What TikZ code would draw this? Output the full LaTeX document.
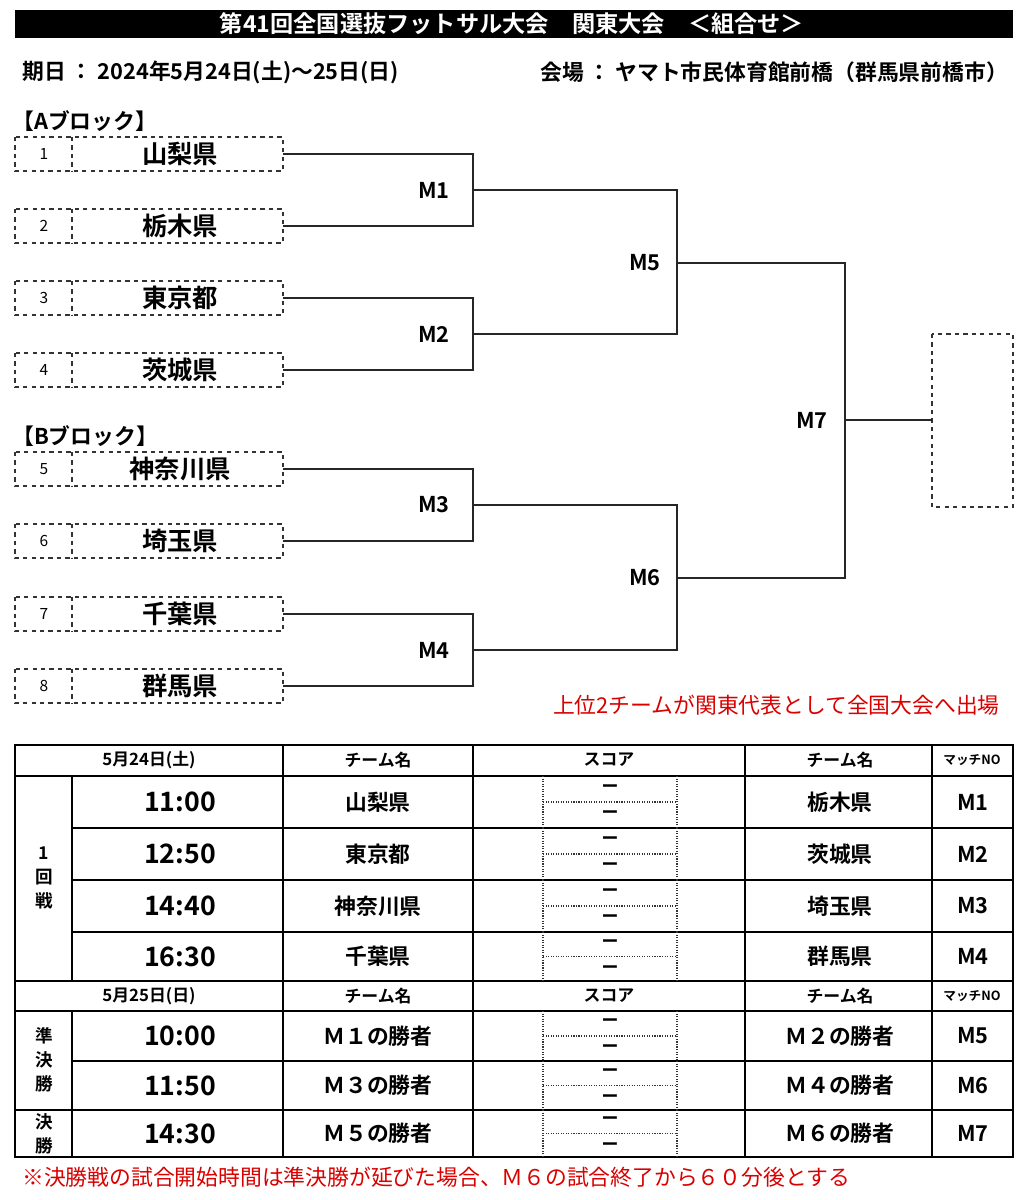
\documentclass[tikz,border=0pt]{standalone}
\usepackage{fontspec}
\setmainfont{Noto Sans CJK JP}[BoldFont={* Bold}]
\begin{document}
\begin{tikzpicture}[
    x=0.025cm, y=-0.025cm,
    txt/.style={font=\bfseries\fontsize{15.5}{17}\selectfont, inner sep=0pt},
    big/.style={font=\bfseries\fontsize{18}{20}\selectfont, inner sep=0pt},
    time_txt/.style={font=\bfseries\fontsize{19}{21}\selectfont, inner sep=0pt},
    small_txt/.style={font=\fontsize{11}{13}\selectfont, inner sep=0pt},
    head_txt/.style={font=\bfseries\fontsize{12}{14}\selectfont, inner sep=0pt},
    round_txt/.style={font=\bfseries\fontsize{12.5}{17}\selectfont, inner sep=0pt, align=center},
    red_txt/.style={text=red!85!black, font=\fontsize{15.5}{17}\selectfont, inner sep=0pt},
    box_line/.style={draw=black!80, dashed, line width=0.8pt},
    bracket/.style={draw=black!85, line width=0.9pt},
    grid_line/.style={draw=black, line width=1pt},
    score_line/.style={draw=black!80, densely dotted, line width=0.8pt}
]
\useasboundingbox (0,0) rectangle (1026,1200);
% title and header
\fill (15,10) rectangle (1013,38);
\node[font=\bfseries\fontsize{16.5}{19}\selectfont, inner sep=0pt, text=white] (title) at (512,24) {第41回全国選抜フットサル大会\quad 関東大会\quad ＜組合せ＞};
\node[txt, anchor=west] (date) at (22,72) {期日 ： 2024年5月24日(土)～25日(日)};
\node[txt, anchor=west] (venue) at (540,72) {会場 ： ヤマト市民体育館前橋（群馬県前橋市）};
\node[txt, anchor=west] (blockA) at (12,121) {【Aブロック】};
\node[txt, anchor=west] (blockB) at (12,436) {【Bブロック】};
% team boxes
\foreach \i/\yy/\name in {1/154/山梨県, 2/226/栃木県, 3/298/東京都, 4/370/茨城県,
                         5/469/神奈川県, 6/541/埼玉県, 7/614/千葉県, 8/686/群馬県} {
    \draw[box_line] (15,\yy-17) rectangle (283,\yy+17);
    \draw[box_line] (72,\yy-17) -- (72,\yy+17);
    \node[small_txt] (num\i) at (44,\yy) {\i};
    \node[big] (team\i) at (180,\yy) {\name};
    \coordinate (t\i) at (283,\yy);
}
% bracket
\foreach \a/\b/\m/\xx/\yy in {1/2/1/473/190, 3/4/2/473/334, 5/6/3/473/505, 7/8/4/473/650} {
    \draw[bracket] (t\a) -| (\xx,\yy) |- (t\b);
    \coordinate (m\m) at (\xx,\yy);
    \node[txt] (lab\m) at (434,\yy) {M\m};
}
\draw[bracket] (m1) -| (677,263) |- (m2);
\coordinate (m5) at (677,263);
\node[txt] (lab5) at (645,263) {M5};
\draw[bracket] (m3) -| (677,578) |- (m4);
\coordinate (m6) at (677,578);
\node[txt] (lab6) at (645,578) {M6};
\draw[bracket] (m5) -| (845,420) |- (m6);
\node[txt] (lab7) at (812,420) {M7};
\draw[box_line] (932,334) rectangle (1013,507);
\coordinate (winner) at (932,420);
\draw[bracket] (845,420) -- (winner);
\node[red_txt, anchor=east] (note) at (1000,705) {上位2チームが関東代表として全国大会へ出場};
% schedule table
\draw[grid_line] (15,745) rectangle (1013,1157);
\foreach \yy in {776,828,880,932,981,1011,1061,1110}
    \draw[grid_line] (72,\yy) -- (1013,\yy);
\foreach \yy in {745,776,981,1011} \draw[grid_line] (15,\yy) -- (1013,\yy);
\draw[grid_line] (15,1110) -- (1013,1110);
\foreach \xx in {283,473,745,932} \draw[grid_line] (\xx,745) -- (\xx,1157);
\draw[grid_line] (72,776) -- (72,981);
\draw[grid_line] (72,1011) -- (72,1157);
\foreach \yy/\d in {760/5月24日(土), 996/5月25日(日)} {
    \node[head_txt] at (149,\yy) {\d};
    \node[head_txt] at (378,\yy) {チーム名};
    \node[head_txt] at (609,\yy) {スコア};
    \node[head_txt] at (840,\yy) {チーム名};
    \node[head_txt, font=\bfseries\fontsize{9}{11}\selectfont] at (972,\yy) {マッチNO};
}
\foreach \ya/\yb/\tm/\home/\away/\m in {776/828/11:00/山梨県/栃木県/M1, 828/880/12:50/東京都/茨城県/M2,
        880/932/14:40/神奈川県/埼玉県/M3, 932/981/16:30/千葉県/群馬県/M4,
        1011/1061/10:00/Ｍ１の勝者/Ｍ２の勝者/M5, 1061/1110/11:50/Ｍ３の勝者/Ｍ４の勝者/M6,
        1110/1157/14:30/Ｍ５の勝者/Ｍ６の勝者/M7} {
    \node[time_txt] at (180,{(\ya+\yb)/2}) {\tm};
    \node[txt] at (378,{(\ya+\yb)/2}) {\home};
    \node[txt] at (840,{(\ya+\yb)/2}) {\away};
    \node[txt] at (973,{(\ya+\yb)/2}) {\m};
    \draw[score_line] (543,\ya) -- (543,\yb);
    \draw[score_line] (677,\ya) -- (677,\yb);
    \draw[score_line] (543,{(\ya+\yb)/2}) -- (677,{(\ya+\yb)/2});
    \node[head_txt] at (610,{(\ya+\yb)/2-13}) {ー};
    \node[head_txt] at (610,{(\ya+\yb)/2+13}) {ー};
}
\node[round_txt] (round1) at (44,878) {1\\回\\戦};
\node[round_txt] (semi) at (44,1060) {準\\決\\勝};
\node[round_txt] (final) at (44,1134) {決\\勝};
\node[red_txt, anchor=west] (footnote) at (22,1177) {※決勝戦の試合開始時間は準決勝が延びた場合、Ｍ６の試合終了から６０分後とする};
\end{tikzpicture}
\end{document}
